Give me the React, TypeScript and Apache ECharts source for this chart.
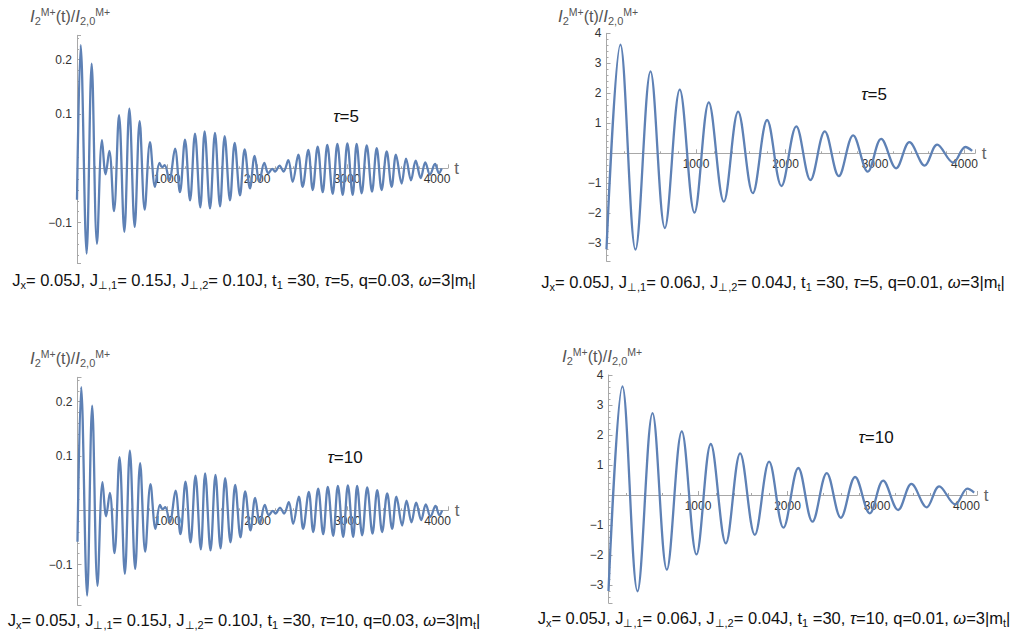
import React, { useEffect, useRef } from 'react';
import * as echarts from 'echarts';

// Left panels (q = 0.03): extrema (t, value)
const leftT = [0, 41, 107, 163, 222, 278, 318, 359, 411, 467, 526, 582, 641, 696, 752, 811, 867, 916, 945, 975, 1025, 1089, 1144, 1200, 1256, 1311, 1370, 1418, 1478, 1533, 1589, 1641, 1700, 1752, 1811, 1863, 1922, 1974, 2026, 2081, 2126, 2170, 2200, 2250, 2295, 2348, 2396, 2459, 2507, 2570, 2619, 2674, 2730, 2781, 2841, 2893, 2952, 3004, 3063, 3107, 3163, 3219, 3278, 3330, 3385, 3441, 3496, 3544, 3607, 3656, 3711, 3763, 3819, 3870, 3922, 3978, 4022, 4052];
const leftV = [-0.058, 0.227, -0.157, 0.193, -0.139, 0.052, -0.011, 0.032, -0.079, 0.098, -0.117, 0.110, -0.108, 0.087, -0.076, 0.048, -0.034, 0.010, 0.002, 0.006, -0.022, 0.036, -0.044, 0.053, -0.059, 0.064, -0.072, 0.068, -0.074, 0.065, -0.070, 0.059, -0.059, 0.047, -0.050, 0.035, -0.037, 0.023, -0.025, 0.010, -0.009, -0.001, -0.006, 0.005, -0.006, 0.015, -0.025, 0.025, -0.034, 0.034, -0.040, 0.040, -0.044, 0.043, -0.047, 0.045, -0.049, 0.046, -0.049, 0.045, -0.046, 0.042, -0.043, 0.037, -0.040, 0.031, -0.034, 0.025, -0.028, 0.018, -0.022, 0.014, -0.018, 0.011, -0.012, 0.008, -0.009, 0.000];

// Right panels (q = 0.01)
const rightT = [0, 156, 324, 492, 652, 819, 983, 1143, 1311, 1471, 1635, 1795, 1955, 2121, 2279, 2439, 2596, 2756, 2920, 3069, 3237, 3385, 3556, 3695, 3874, 4011, 4086];
const rightV = [-3.2, 3.62, -3.21, 2.73, -2.49, 2.12, -1.98, 1.70, -1.61, 1.39, -1.33, 1.11, -1.09, 0.90, -0.89, 0.73, -0.76, 0.60, -0.61, 0.48, -0.50, 0.37, -0.41, 0.29, -0.31, 0.21, 0.08];

const xTickLabels = [1000, 2000, 3000, 4000];
const leftYTickLabels = [-0.1, 0.1, 0.2];
const rightYTickLabels = [-3, -2, -1, 1, 2, 3, 4];
const tauValues = ['5', '5', '10', '10'];
const captions = [
  'J{s|x}= 0.05J, J{s|⊥,1}= 0.15J, J{s|⊥,2}= 0.10J, t{s|1} =30, {i|τ}=5, q=0.03, {i|ω}=3|m{s|t}|',
  'J{s|x}= 0.05J, J{s|⊥,1}= 0.06J, J{s|⊥,2}= 0.04J, t{s|1} =30, {i|τ}=5, q=0.01, {i|ω}=3|m{s|t}|',
  'J{s|x}= 0.05J, J{s|⊥,1}= 0.15J, J{s|⊥,2}= 0.10J, t{s|1} =30, {i|τ}=10, q=0.03, {i|ω}=3|m{s|t}|',
  'J{s|x}= 0.05J, J{s|⊥,1}= 0.06J, J{s|⊥,2}= 0.04J, t{s|1} =30, {i|τ}=10, q=0.01, {i|ω}=3|m{s|t}|',
];
const yTitle = '{i|I}{s|2}{p|M+}(t)/{i|I}{s|2,0}{p|M+}';

const FONT = '"Liberation Sans", Arial, Helvetica, sans-serif';
const LINE = '#5E81B5';
const AXIS = '#a8a8a8';

export default function App() {
  const ref = useRef<HTMLDivElement>(null);
  useEffect(() => {
    if (!ref.current) return;
    const chart = echarts.init(ref.current, undefined, { renderer: 'svg' });

    const grids = [
      { left: 77, top: 35.3, width: 370.8, height: 228 },
      { left: 606.5, top: 33.3, width: 368.7, height: 228 },
      { left: 77.5, top: 377.3, width: 370.8, height: 228 },
      { left: 608.5, top: 375, width: 368.7, height: 228 },
    ];
    const isLeft = [true, false, true, false];
    const yMin = (i: number) => (isLeft[i] ? -0.175 : -3.6);
    const yMax = (i: number) => (isLeft[i] ? 0.245 : 4);

    const fmtY = (ticks: number[]) => (v: number) => {
      const hit = ticks.find((t) => Math.abs(t - v) < 1e-9);
      if (hit === undefined) return '';
      const s = String(Math.abs(hit));
      return hit < 0 ? '−' + s : s;
    };

    const xAxis = grids.map((g, i) => {
      // distance from the grid bottom up to the zero line, so labels sit under the zero axis
      const zeroUp = (g.height * (0 - yMin(i))) / (yMax(i) - yMin(i));
      return {
        type: 'value',
        gridIndex: i,
        min: 0,
        max: 4120,
        interval: 1000,
        axisLine: { show: true, onZero: true, lineStyle: { color: AXIS, width: 1 } },
        axisTick: { show: true, inside: true, length: 4, lineStyle: { color: AXIS } },
        minorTick: { show: true, splitNumber: 5, length: 2, lineStyle: { color: AXIS } },
        splitLine: { show: false },
        axisLabel: {
          formatter: (v: number) => (xTickLabels.includes(v) ? String(v) : ''),
          color: '#333',
          fontSize: 12,
          fontFamily: FONT,
          margin: 5 - zeroUp,
        },
        name: 't',
        nameLocation: 'end',
        nameGap: 5,
        nameTextStyle: { fontSize: 17, color: '#666', fontFamily: FONT },
      };
    });

    const yAxis = grids.map((_, i) => ({
      type: 'value',
      gridIndex: i,
      min: yMin(i),
      max: yMax(i),
      splitNumber: isLeft[i] ? 4 : 8,
      axisLine: { show: true, onZero: false, lineStyle: { color: AXIS, width: 1 } },
      axisTick: { show: true, inside: true, length: 4, lineStyle: { color: AXIS } },
      minorTick: { show: true, splitNumber: 5, length: 2, lineStyle: { color: AXIS } },
      splitLine: { show: false },
      axisLabel: {
        formatter: fmtY(isLeft[i] ? leftYTickLabels : rightYTickLabels),
        color: '#333',
        fontSize: 12,
        fontFamily: FONT,
        margin: 5,
        showMinLabel: false,
        showMaxLabel: isLeft[i] ? false : true,
      },
    }));

    const series = grids.map((_, i) => {
      const t = isLeft[i] ? leftT : rightT;
      const v = isLeft[i] ? leftV : rightV;
      return {
        type: 'line',
        xAxisIndex: i,
        yAxisIndex: i,
        data: t.map((x, k) => [x, v[k]]),
        smooth: 0.36,
        showSymbol: false,
        symbol: 'none',
        lineStyle: { color: LINE, width: 2.3 },
        silent: true,
      };
    });

    const baseRich = {
      s: { fontSize: 11, lineHeight: 11, verticalAlign: 'bottom', fontFamily: FONT, fill: '#111' },
      i: { fontSize: 16.5, lineHeight: 20, fontStyle: 'italic', fontFamily: FONT, fill: '#111' },
    };

    const captionPos = [
      { x: 244, y: 280 },
      { x: 773, y: 282 },
      { x: 244, y: 620 },
      { x: 774, y: 618 },
    ];
    const tauPos = [
      { x: 346, y: 116 },
      { x: 874, y: 94 },
      { x: 345, y: 457 },
      { x: 876, y: 437 },
    ];
    const titlePos = [
      { x: 30, y: 16 },
      { x: 558, y: 16 },
      { x: 30, y: 358 },
      { x: 562, y: 356 },
    ];

    const graphic: any[] = [];
    for (let i = 0; i < 4; i++) {
      graphic.push({
        type: 'text',
        x: captionPos[i].x,
        y: captionPos[i].y,
        style: {
          text: captions[i],
          fontSize: 16.5,
          lineHeight: 20,
          fontFamily: FONT,
          fill: '#111',
          align: 'center',
          verticalAlign: 'middle',
          rich: baseRich,
        },
      });
      graphic.push({
        type: 'text',
        x: tauPos[i].x,
        y: tauPos[i].y,
        style: {
          text: '{i|τ}=' + tauValues[i],
          fontSize: 17,
          lineHeight: 20,
          fontFamily: FONT,
          fill: '#111',
          align: 'center',
          verticalAlign: 'middle',
          rich: { i: { fontSize: 17, lineHeight: 20, fontStyle: 'italic', fontFamily: FONT, fill: '#111' } },
        },
      });
      graphic.push({
        type: 'text',
        x: titlePos[i].x,
        y: titlePos[i].y,
        style: {
          text: yTitle,
          fontSize: 16,
          lineHeight: 20,
          fontFamily: FONT,
          fill: '#555',
          align: 'left',
          verticalAlign: 'middle',
          rich: {
            i: { fontSize: 17, lineHeight: 20, fontStyle: 'italic', fontFamily: FONT, fill: '#555' },
            s: { fontSize: 11, lineHeight: 10, verticalAlign: 'bottom', fontFamily: FONT, fill: '#555' },
            p: { fontSize: 10.5, lineHeight: 10, verticalAlign: 'top', fontFamily: FONT, fill: '#555' },
          },
        },
      });
    }

    chart.setOption({
      animation: false,
      backgroundColor: '#ffffff',
      grid: grids,
      xAxis,
      yAxis,
      series,
      graphic,
    });
    return () => chart.dispose();
  }, []);

  return (
    <div
      ref={ref}
      style={{ position: 'fixed', left: 0, top: 0, width: 1018, height: 640, background: '#fff' }}
    />
  );
}
